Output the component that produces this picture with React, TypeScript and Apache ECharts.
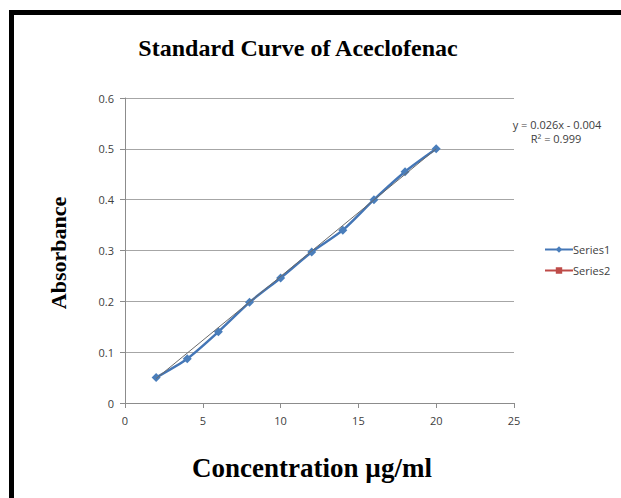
import React, { useEffect, useRef } from "react";
import * as echarts from "echarts";

const concentration = [2, 4, 6, 8, 10, 12, 14, 16, 18, 20];
const absorbance = [0.05, 0.087, 0.14, 0.198, 0.246, 0.297, 0.34, 0.4, 0.455, 0.5];
const trendX = [2, 20];
const trendY = [0.048, 0.5];
const series2Values: number[][] = [];
const titleText = "Standard Curve of Aceclofenac";
const xName = "Concentration µg/ml";
const yName = "Absorbance";
const equationLines = ["y = 0.026x - 0.004", "R² = 0.999"];

export default function App() {
  const ref = useRef<HTMLDivElement>(null);
  useEffect(() => {
    if (!ref.current) return;
    const chart = echarts.init(ref.current, undefined, { renderer: "svg" });
    const serif = "'Liberation Serif', 'DejaVu Serif', serif";
    const sans = "'Open Sans', 'Noto Sans', sans-serif";
    chart.setOption({
      animation: false,
      backgroundColor: "#ffffff",
      grid: { left: 125, top: 98, width: 389, height: 305, containLabel: false },
      xAxis: {
        type: "value",
        min: 0,
        max: 25,
        interval: 5,
        axisLine: { show: true, lineStyle: { color: "#8c8c8c", width: 1 } },
        axisTick: { show: true, inside: false, length: 5, lineStyle: { color: "#8c8c8c" } },
        axisLabel: { color: "#404040", fontSize: 11, fontFamily: sans, margin: 12 },
        splitLine: { show: false },
      },
      yAxis: {
        type: "value",
        min: 0,
        max: 0.6,
        interval: 0.1,
        axisLine: { show: true, lineStyle: { color: "#8c8c8c", width: 1 } },
        axisTick: { show: true, inside: false, length: 5, lineStyle: { color: "#8c8c8c" } },
        axisLabel: { color: "#404040", fontSize: 11, fontFamily: sans, margin: 11 },
        splitLine: { show: true, lineStyle: { color: "#a6a6a6", width: 1 } },
      },
      legend: {
        orient: "vertical",
        left: 539,
        top: 239,
        itemWidth: 28,
        itemHeight: 8,
        itemGap: 10,
        data: ["Series1", "Series2"],
        textStyle: { color: "#404040", fontSize: 11, fontFamily: sans, padding: [0, 0, 0, -5] },
      },
      series: [
        {
          name: "Series1",
          type: "line",
          data: concentration.map((x, i) => [x, absorbance[i]]),
          smooth: 0.25,
          symbol: "diamond",
          symbolSize: 9,
          itemStyle: { color: "#4a7ebb" },
          lineStyle: { color: "#4476b6", width: 2.5 },
          z: 2,
        },
        {
          name: "Series2",
          type: "line",
          data: series2Values,
          symbol: "rect",
          symbolSize: 8,
          itemStyle: { color: "#be4b48" },
          lineStyle: { color: "#be4b48", width: 2 },
        },
        {
          name: "Trendline",
          type: "line",
          data: trendX.map((x, i) => [x, trendY[i]]),
          showSymbol: false,
          symbol: "none",
          lineStyle: { color: "#6a6a6a", width: 1 },
          z: 3,
          silent: true,
        },
      ],
      graphic: [
        {
          type: "line",
          shape: { x1: 11.5, y1: 10, x2: 11.5, y2: 498 },
          style: { stroke: "#000", lineWidth: 5 },
        },
        {
          type: "line",
          shape: { x1: 9, y1: 12.5, x2: 621, y2: 12.5 },
          style: { stroke: "#000", lineWidth: 5 },
        },
        {
          type: "text",
          x: 298,
          y: 48,
          style: {
            text: titleText,
            font: `bold 24px ${serif}`,
            fill: "#000",
            align: "center",
            verticalAlign: "middle",
          },
        },
        {
          type: "text",
          x: 312,
          y: 468,
          style: {
            text: xName,
            font: `bold 27px ${serif}`,
            fill: "#000",
            align: "center",
            verticalAlign: "middle",
          },
        },
        {
          type: "text",
          x: 58,
          y: 253,
          rotation: Math.PI / 2,
          style: {
            text: yName,
            font: `bold 22px ${serif}`,
            fill: "#000",
            align: "center",
            verticalAlign: "middle",
          },
        },
        {
          type: "text",
          x: 557,
          y: 124,
          style: {
            text: equationLines[0],
            font: `11px ${sans}`,
            fill: "#404040",
            align: "center",
            verticalAlign: "middle",
          },
        },
        {
          type: "text",
          x: 556,
          y: 138,
          style: {
            text: equationLines[1],
            font: `11px ${sans}`,
            fill: "#404040",
            align: "center",
            verticalAlign: "middle",
          },
        },
      ],
    });
    return () => chart.dispose();
  }, []);
  return (
    <div
      ref={ref}
      style={{ position: "absolute", left: 0, top: 0, width: 621, height: 498 }}
    />
  );
}
